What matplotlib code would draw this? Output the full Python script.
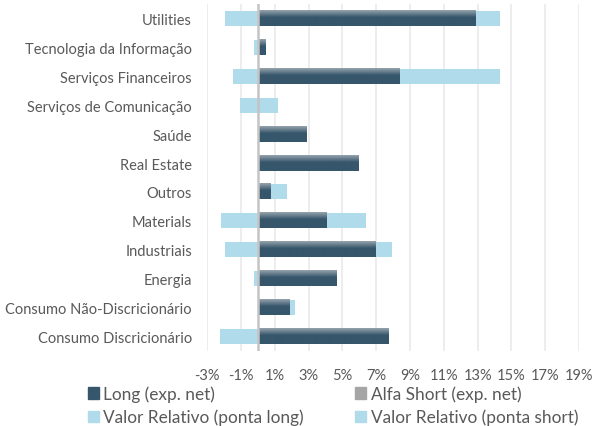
import numpy as np
import matplotlib.pyplot as plt
from matplotlib.colors import LinearSegmentedColormap
from matplotlib.patches import Patch

# -----------------------------
# Data (percent), bottom -> top
# -----------------------------
categories = [
    "Consumo Discricionário",
    "Consumo Não-Discricionário",
    "Energia",
    "Industriais",
    "Materials",
    "Outros",
    "Real Estate",
    "Saúde",
    "Serviços de Comunicação",
    "Serviços Financeiros",
    "Tecnologia da Informação",
    "Utilities",
]
long_net = [7.7, 1.88, 4.67, 6.95, 4.08, 0.75, 5.92, 2.9, 0.0, 8.4, 0.45, 12.9]
alfa_short = [0.0] * 12
vr_long = [0.0, 0.3, 0.0, 1.0, 2.3, 0.95, 0.0, 0.0, 1.17, 5.95, 0.0, 1.4]
vr_short = [-2.27, 0.0, -0.26, -1.98, -2.2, 0.0, 0.0, 0.0, -1.09, -1.5, -0.26, -1.98]
xticks = list(range(-3, 20, 2))

# -----------------------------
# Style
# -----------------------------
plt.rcParams["font.family"] = ["Lato", "DejaVu Sans"]
text_color = "#595959"
dark = "#36566b"
light = "#b0dbea"
gray = "#a5a5a5"

fig = plt.figure(figsize=(5.93, 4.27), dpi=100)
ax = fig.add_axes([0.3496, 0.1756, 0.6268, 0.8127])

y = np.arange(len(categories))
h = 0.52

ax.barh(y, vr_short, height=h, color=light, zorder=2)
bars = ax.barh(y, long_net, height=h, color=dark, zorder=2)
ax.barh(y, alfa_short, height=h, color=gray, zorder=2)
ax.barh(y, vr_long, left=long_net, height=h, color=light, zorder=2)

# gradient on top part of the dark bars
cmap = LinearSegmentedColormap.from_list("g", [(0, "#95a3ad"), (0.45, dark), (1, dark)])
grad = np.linspace(0, 1, 64).reshape(-1, 1)
for b in bars:
    w = b.get_width()
    if w <= 0:
        continue
    y0 = b.get_y()
    ax.imshow(grad, cmap=cmap, aspect="auto", origin="upper",
              extent=[b.get_x(), b.get_x() + w, y0, y0 + h], zorder=3)

for xv in xticks:
    ax.axvline(xv, color="#ececec", lw=1.3, zorder=1)
ax.axvline(0, color="#c4c4c4", lw=1.8, zorder=4)

ax.set_xlim(-3, 19)
ax.set_ylim(-0.5, 11.5)
ax.set_xticks(xticks)
ax.set_xticklabels([f"{v}%" for v in xticks])
ax.set_yticks(y)
ax.set_yticklabels(categories)
ax.tick_params(axis="x", length=0, pad=12, labelsize=10.5, colors=text_color)
ax.tick_params(axis="y", length=0, pad=11, labelsize=10.5, colors=text_color)
for s in ax.spines.values():
    s.set_visible(False)

handles = [
    Patch(color=dark, label="Long (exp. net)"),
    Patch(color=light, label="Valor Relativo (ponta long)"),
    Patch(color=gray, label="Alfa Short (exp. net)"),
    Patch(color=light, label="Valor Relativo (ponta short)"),
]
leg = fig.legend(handles=handles, ncol=2, loc="upper left",
                 bbox_to_anchor=(0.148, 0.095), frameon=False,
                 fontsize=12.4, handlelength=0.64, handleheight=0.64,
                 handletextpad=0.25, columnspacing=3.0, labelspacing=0.4,
                 borderaxespad=0, borderpad=0)
for t in leg.get_texts():
    t.set_color(text_color)

fig.savefig("out.png", dpi=100)
